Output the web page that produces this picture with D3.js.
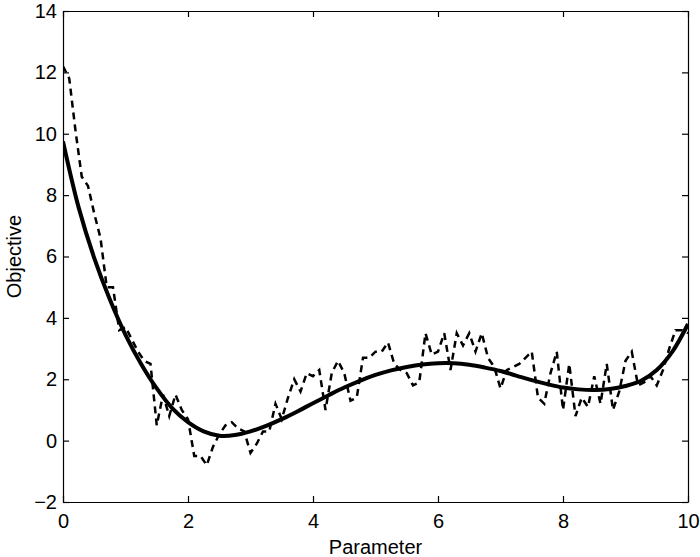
<!DOCTYPE html>
<meta charset="utf-8">

<style>

body {
  margin: 0;
  background: #fff;
}

svg text {
  font-family: "Liberation Sans", Arial, sans-serif;
  font-size: 20px;
  fill: #000;
}

.axis path,
.axis line {
  fill: none;
  stroke: #000;
  stroke-width: 1.2;
}

.fit {
  fill: none;
  stroke: #000;
  stroke-width: 4;
  stroke-linejoin: round;
}

.noisy {
  fill: none;
  stroke: #000;
  stroke-width: 2.5;
  stroke-dasharray: 7,5;
}

</style>
<body>
<script src="https://d3js.org/d3.v7.min.js"></script>
<script>
// smooth fit, sampled every 0.25
var fitX = [0, 0.25, 0.5, 0.75, 1, 1.25, 1.5, 1.75, 2, 2.25, 2.5, 2.75, 3, 3.25, 3.5, 3.75, 4,
            4.25, 4.5, 4.75, 5, 5.25, 5.5, 5.75, 6, 6.25, 6.5, 6.75, 7, 7.25, 7.5, 7.75, 8,
            8.25, 8.5, 8.75, 9, 9.25, 9.5, 9.75, 10];
var fitY = [9.75, 7.6, 5.95, 4.6, 3.45, 2.5, 1.7, 1.05, 0.6, 0.3, 0.16, 0.18, 0.3, 0.48, 0.7, 0.95, 1.22,
            1.48, 1.73, 1.95, 2.14, 2.29, 2.4, 2.48, 2.52, 2.52, 2.47, 2.38, 2.27, 2.12, 1.97, 1.84, 1.73,
            1.67, 1.65, 1.68, 1.78, 1.95, 2.3, 2.9, 3.8];

// noisy samples, every 0.1
var noisyY = [12.2, 11.8, 10.1, 8.6, 8.3, 7.4, 6.6, 5.0, 5.0, 3.6,
              3.7, 3.3, 2.9, 2.6, 2.5, 0.5, 1.5, 0.8, 1.5, 1.0,
              0.7, -0.5, -0.5, -0.8, -0.2, 0.2, 0.5, 0.6, 0.4, 0.3,
              -0.4, -0.1, 0.3, 0.3, 1.2, 0.7, 1.4, 2.0, 1.6, 2.2,
              2.1, 2.3, 1.0, 2.2, 2.6, 2.2, 1.3, 1.4, 2.7, 2.7,
              2.9, 2.9, 3.2, 2.5, 2.3, 2.2, 1.8, 1.9, 3.5, 2.8,
              2.9, 3.5, 2.3, 3.5, 3.1, 3.5, 2.9, 3.5, 2.7, 2.4,
              1.7, 2.3, 2.4, 2.5, 2.7, 2.9, 1.4, 1.2, 2.2, 2.9,
              1.0, 2.5, 0.8, 1.4, 1.1, 2.1, 1.2, 2.5, 1.0, 1.6,
              2.6, 2.9, 1.8, 1.9, 2.1, 1.8, 2.3, 3.0, 3.6, 3.6,
              3.5];
var noisyX = noisyY.map(function(d, i) { return i / 10; });

var xTicks = [0, 2, 4, 6, 8, 10];
var yTicks = [-2, 0, 2, 4, 6, 8, 10, 12, 14];

var margin = {top: 11, right: 12, bottom: 55, left: 63},
    width = 700 - margin.left - margin.right,
    height = 557 - margin.top - margin.bottom;

var x = d3.scaleLinear().domain([0, 10]).range([0, width]);
var y = d3.scaleLinear().domain([-2, 14]).range([height, 0]);

var svg = d3.select("body").append("svg")
    .attr("width", 700)
    .attr("height", 557)
  .append("g")
    .attr("transform", "translate(" + margin.left + "," + margin.top + ")");

var fmt = function(d) { return d < 0 ? "\u2212" + (-d) : d; };

svg.append("clipPath").attr("id", "clip")
  .append("rect").attr("width", width).attr("height", height);

var line = d3.line()
    .x(function(d) { return x(d[0]); })
    .y(function(d) { return y(d[1]); });

svg.append("path")
    .datum(d3.zip(noisyX, noisyY))
    .attr("class", "noisy")
    .attr("clip-path", "url(#clip)")
    .attr("d", line);

svg.append("path")
    .datum(d3.zip(fitX, fitY))
    .attr("class", "fit")
    .attr("clip-path", "url(#clip)")
    .attr("d", line.curve(d3.curveCatmullRom));

svg.append("g")
    .attr("class", "x axis")
    .attr("transform", "translate(0," + height + ")")
    .call(d3.axisBottom(x).tickValues(xTicks).tickSizeInner(-6).tickSizeOuter(0).tickPadding(12).tickFormat(fmt));

svg.append("g")
    .attr("class", "x axis")
    .call(d3.axisTop(x).tickValues(xTicks).tickSizeInner(-6).tickSizeOuter(0).tickFormat(""));

svg.append("g")
    .attr("class", "y axis")
    .call(d3.axisLeft(y).tickValues(yTicks).tickSizeInner(-6).tickSizeOuter(0).tickPadding(6).tickFormat(fmt));

svg.append("g")
    .attr("class", "y axis")
    .attr("transform", "translate(" + width + ",0)")
    .call(d3.axisRight(y).tickValues(yTicks).tickSizeInner(-6).tickSizeOuter(0).tickFormat(""));

svg.selectAll(".axis text").style("font-size", "20px").style("font-family", null);

svg.append("text")
    .attr("x", width / 2)
    .attr("y", height + 52)
    .style("text-anchor", "middle")
    .text("Parameter");

svg.append("text")
    .attr("transform", "rotate(-90)")
    .attr("x", -height / 2)
    .attr("y", -42)
    .style("text-anchor", "middle")
    .text("Objective");

</script>
</body>
</html>
